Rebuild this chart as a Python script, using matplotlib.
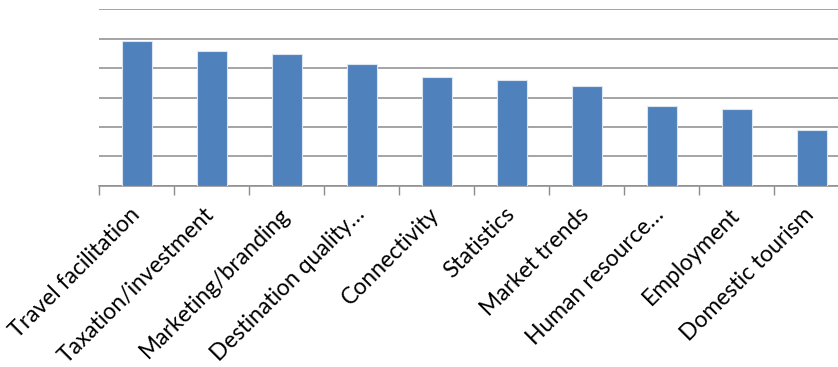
import matplotlib
matplotlib.use("Agg")
import matplotlib.pyplot as plt
import matplotlib.transforms as mtransforms
import numpy as np

categories = [
    "Travel facilitation",
    "Taxation/investment",
    "Marketing/branding",
    "Destination quality\u2026",
    "Connectivity",
    "Statistics",
    "Market trends",
    "Human resource\u2026",
    "Employment",
    "Domestic tourism",
]
values = [4.91, 4.58, 4.47, 4.14, 3.69, 3.61, 3.40, 2.71, 2.60, 1.88]
y_max = 6
y_step = 1

W, H = 838, 367
fig = plt.figure(figsize=(W / 100, H / 100), dpi=100)
left, right = 99.3 / W, 849 / W
bottom, top = 1 - 185.7 / H, 1 - 9.3 / H
ax = fig.add_axes([left, bottom, right - left, top - bottom])

x = np.arange(len(categories))
ax.bar(x, values, width=0.4, color="#4F81BD", edgecolor="#DCE6F2",
       linewidth=0.8, zorder=3)

ax.set_xlim(-0.5, len(categories) - 0.5)
ax.set_ylim(0, y_max)
ax.set_yticks(np.arange(0, y_max + y_step, y_step))
ax.yaxis.grid(True, color="#8C8C8C", linewidth=1.1, zorder=0)
ax.tick_params(axis="y", left=False, labelleft=False)

# category boundary ticks
ax.set_xticks(np.arange(-0.5, len(categories) + 0.5, 1))
ax.set_xticklabels([])
ax.tick_params(axis="x", which="major", length=6.5, width=1.0,
               color="#8C8C8C", direction="out")

# slanted category names, anchored just below each category centre
base = mtransforms.blended_transform_factory(ax.transData, ax.transAxes)
offset = mtransforms.ScaledTranslation(-8 / 100, -18 / 100, fig.dpi_scale_trans)
for xi, name in zip(x, categories):
    ax.text(xi, 0, name, transform=base + offset, rotation=45,
            rotation_mode="anchor", ha="right", va="top",
            fontsize=16.5, family=["Lato", "DejaVu Sans"], color="#000000",
            clip_on=False)

for s in ["top", "right", "left"]:
    ax.spines[s].set_visible(False)
ax.spines["bottom"].set_color("#8C8C8C")
ax.spines["bottom"].set_linewidth(1.1)

fig.savefig("out.png", dpi=100)
